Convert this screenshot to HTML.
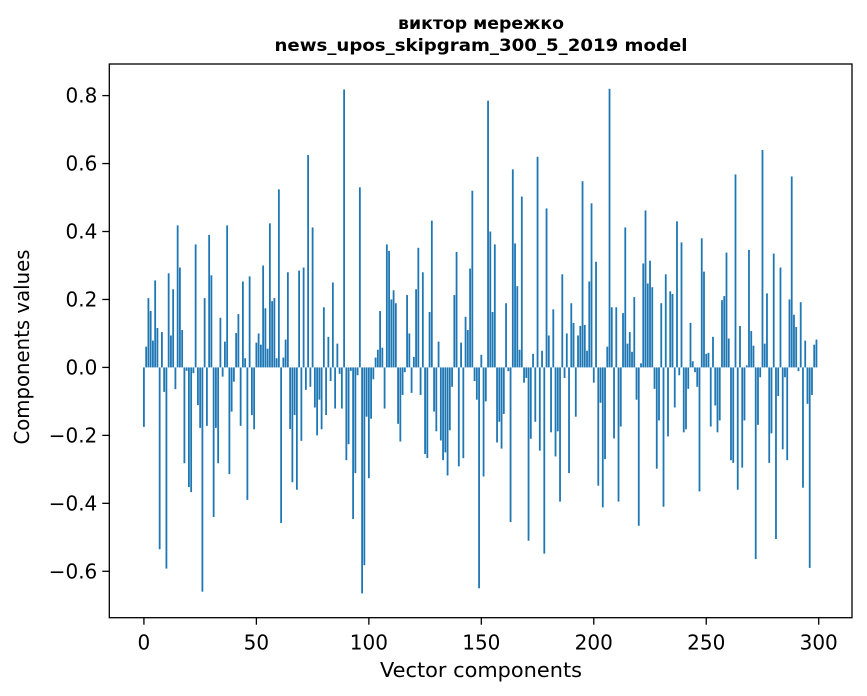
<!DOCTYPE html>
<html><head><meta charset="utf-8"><style>
html,body{margin:0;padding:0;background:#fff;}
svg{display:block;font-family:"DejaVu Sans","Liberation Sans",sans-serif;}
</style></head><body>
<svg id="chart" width="867" height="696" viewBox="0 0 867 696" xmlns="http://www.w3.org/2000/svg">
<rect width="867" height="696" fill="#fff"/>
<text x="481" y="29" text-anchor="middle" font-size="17" font-weight="bold" fill="#000" textLength="166" lengthAdjust="spacingAndGlyphs">виктор мережко</text>
<text x="481" y="51" text-anchor="middle" font-size="17" font-weight="bold" fill="#000" textLength="413" lengthAdjust="spacingAndGlyphs">news_upos_skipgram_300_5_2019 model</text>
<g id="bars"></g>
<g id="axes"></g>
<text x="481" y="677" text-anchor="middle" font-size="20" fill="#000" textLength="202" lengthAdjust="spacingAndGlyphs">Vector components</text>
<text x="0" y="0" transform="translate(29,347) rotate(-90)" text-anchor="middle" font-size="20" fill="#000" textLength="195" lengthAdjust="spacingAndGlyphs">Components values</text>
</svg>
<script>
const values = [-0.175,0.061,0.204,0.166,0.079,0.256,0.116,-0.535,0.104,-0.072,
-0.592,0.277,0.094,0.23,-0.064,0.418,0.294,0.11,-0.282,-0.01,
-0.352,-0.367,-0.017,0.362,-0.111,-0.178,-0.66,0.204,-0.172,0.39,
0.271,-0.44,-0.178,-0.282,0.146,-0.027,0.076,0.418,-0.314,-0.13,
-0.042,0.101,0.157,-0.172,0.253,0.027,-0.39,0.268,-0.14,-0.182,
0.073,0.1,0.067,0.3,0.174,0.055,0.424,0.195,0.204,0.027,
0.524,-0.458,0.029,0.082,0.28,-0.181,-0.338,-0.14,-0.36,0.285,
-0.216,0.294,-0.066,0.625,-0.057,0.412,-0.118,-0.2,-0.095,-0.182,
0.177,-0.14,0.09,-0.04,0.25,-0.121,0.07,-0.019,-0.121,0.818,
-0.273,-0.226,-0.01,-0.446,-0.311,-0.023,0.53,-0.665,-0.582,-0.145,
-0.326,-0.151,-0.035,0.029,0.052,0.166,0.058,-0.121,0.362,0.343,
0.2,0.227,0.189,-0.166,-0.218,-0.081,-0.014,0.213,0.1,-0.075,
0.031,0.23,0.352,-0.081,0.28,-0.255,-0.267,0.163,0.432,-0.13,
-0.188,0.076,-0.215,-0.273,-0.25,-0.318,-0.185,-0.057,0.213,0.34,
-0.291,0.073,-0.267,0.149,0.11,0.291,0.52,-0.04,-0.095,-0.65,
0.037,-0.321,-0.1,0.785,0.4,0.163,0.362,-0.221,-0.16,-0.239,
-0.137,0.189,-0.011,-0.455,0.583,0.365,0.239,0.052,0.503,-0.045,
-0.031,-0.51,-0.21,0.04,-0.16,0.62,-0.245,0.049,-0.548,0.468,
0.094,-0.191,0.171,-0.262,-0.188,-0.395,0.274,-0.031,0.1,-0.311,
0.189,0.131,-0.145,0.094,0.122,0.548,0.125,0.049,0.253,0.483,
-0.045,0.311,-0.348,-0.104,-0.412,-0.27,0.061,0.82,0.177,-0.209,
0.177,-0.395,-0.174,0.16,0.412,0.07,0.104,0.046,0.207,-0.095,
-0.466,0.012,0.306,0.462,0.247,0.314,0.236,-0.063,-0.298,-0.156,
0.189,-0.41,0.274,-0.203,0.224,0.216,-0.118,0.43,-0.023,0.368,
-0.191,-0.182,-0.063,0.131,0.018,-0.014,-0.057,-0.365,0.38,0.282,
0.04,0.043,-0.174,0.09,-0.112,-0.191,-0.156,0.198,0.21,0.338,
0.085,-0.273,-0.281,0.568,-0.36,0.122,-0.295,-0.156,0.006,0.346,
0.107,0.064,-0.564,-0.169,-0.029,0.64,0.07,0.218,-0.281,-0.194,
0.335,-0.505,-0.084,0.294,-0.241,-0.029,-0.273,0.2,0.562,0.155,
0.119,-0.011,0.192,-0.354,0.079,-0.107,-0.59,-0.081,0.067,0.082];
const xTicks = [0,50,100,150,200,250,300];
const yTicks = [-0.6,-0.4,-0.2,0.0,0.2,0.4,0.6,0.8];
const yTickLabels = ["\u22120.6","\u22120.4","\u22120.2","0.0","0.2","0.4","0.6","0.8"];

const NS="http://www.w3.org/2000/svg";
const L=109.3,R=852,T=64,B=617.7;
const xmin=-15.39,xmax=314.8,ymin=-0.7366,ymax=0.893;
function xs(v){return L+(v-xmin)/(xmax-xmin)*(R-L);}
function ys(v){return B-(v-ymin)/(ymax-ymin)*(B-T);}
function mk(tag,attrs,parent){const e=document.createElementNS(NS,tag);for(const k in attrs)e.setAttribute(k,attrs[k]);parent.appendChild(e);return e;}
const bars=document.getElementById('bars');
const bw=xs(0.4)-xs(-0.4);
values.forEach((v,i)=>{
  const y0=ys(0),y1=ys(v);
  const r=mk('rect',{x:xs(i)-bw/2,y:Math.min(y0,y1),width:bw,height:Math.max(Math.abs(y1-y0),0.3),fill:'#1f77b4'},bars);
  
  
});
const axes=document.getElementById('axes');
const frame=mk('rect',{x:L,y:T,width:R-L,height:B-T,fill:'none',stroke:'#000','stroke-width':1.3},axes);


xTicks.forEach(t=>{
  const x=xs(t);
  const tk=mk('line',{x1:x,x2:x,y1:B,y2:B+7,stroke:'#000','stroke-width':1.3},axes);
  
  
  const lb=mk('text',{x:x,y:B+32,'text-anchor':'middle','font-size':20,fill:'#000'},axes);
  lb.textContent=String(t);
  
  
});
yTicks.forEach((t,i)=>{
  const y=ys(t);
  const tk=mk('line',{x1:L-7,x2:L,y1:y,y2:y,stroke:'#000','stroke-width':1.3},axes);
  
  
  const lb=mk('text',{x:L-12,y:y+7,'text-anchor':'end','font-size':20,fill:'#000'},axes);
  lb.textContent=yTickLabels[i];
  
  
});
</script>
</body></html>
